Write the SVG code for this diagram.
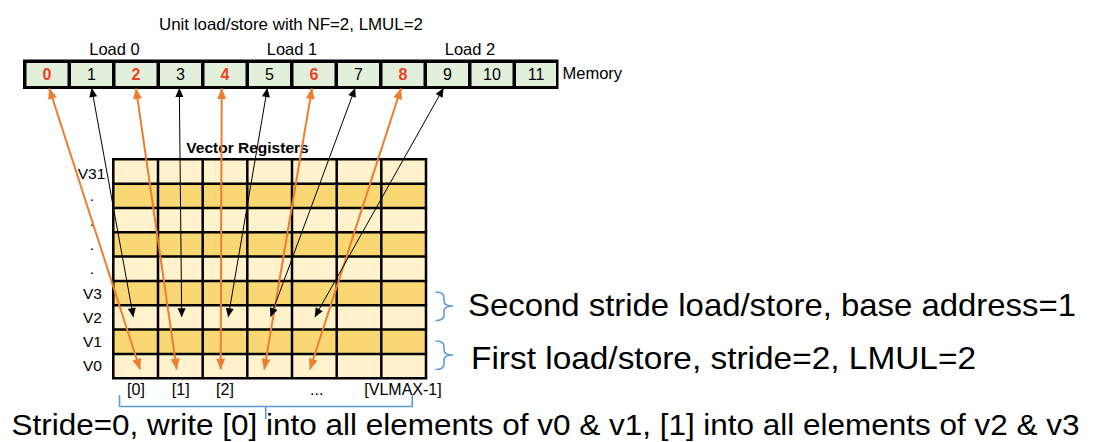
<svg xmlns="http://www.w3.org/2000/svg" width="1117" height="442" viewBox="0 0 1117 442">
<style>
text{font-family:"Liberation Sans",Arial,sans-serif;fill:#000}
.t16{font-size:16.5px}
.num{font-size:16px;text-anchor:middle}
.red{fill:#EE3F25;font-weight:bold}
.cell{fill:#E2EFDA}
.lt{fill:#FFF2CC}
.dk{fill:#F9D873}
.grid{stroke:#000;stroke-width:2.5;fill:none}
.reg{font-size:15.5px;text-anchor:middle}
.idx{font-size:16px;text-anchor:middle}
.big{font-size:32px}
.or{stroke:#ED7D31;stroke-width:2;fill:none;marker-start:url(#ao);marker-end:url(#ao)}
.bk{stroke:#000;stroke-width:1;fill:none;marker-start:url(#ab);marker-end:url(#ab)}
.br{stroke:#5B9BD5;stroke-width:1.6;fill:none}
</style>
<defs>
<marker id="ao" markerUnits="userSpaceOnUse" markerWidth="12" markerHeight="10" refX="10.5" refY="4.5" orient="auto-start-reverse" overflow="visible"><path d="M0,0 L11,4.5 L0,9 z" fill="#ED7D31"/></marker>
<marker id="ab" markerUnits="userSpaceOnUse" markerWidth="10" markerHeight="9" refX="8.5" refY="4" orient="auto-start-reverse" overflow="visible"><path d="M0,0 L9,4 L0,8 z" fill="#000"/></marker>
</defs>
<rect width="1117" height="442" fill="#fff"/>

<g id="title">
<text class="t16" x="291" y="30" text-anchor="middle" textLength="264" lengthAdjust="spacingAndGlyphs">Unit load/store with NF=2, LMUL=2</text>
<text class="t16" x="114.5" y="55" text-anchor="middle">Load 0</text>
<text class="t16" x="292" y="55" text-anchor="middle">Load 1</text>
<text class="t16" x="470" y="55" text-anchor="middle">Load 2</text>
</g>

<g id="memory">
<rect x="23" y="59.5" width="535.5" height="29.5" fill="#000"/>
<g id="mem0"><rect class="cell" x="26.5" y="63" width="41" height="23"/><text class="num red" x="47" y="80">0</text></g>
<g id="mem1"><rect class="cell" x="71" y="63" width="41" height="23"/><text class="num" x="91.5" y="80">1</text></g>
<g id="mem2"><rect class="cell" x="115.5" y="63" width="41" height="23"/><text class="num red" x="136" y="80">2</text></g>
<g id="mem3"><rect class="cell" x="160" y="63" width="41" height="23"/><text class="num" x="180.5" y="80">3</text></g>
<g id="mem4"><rect class="cell" x="204.5" y="63" width="41" height="23"/><text class="num red" x="225" y="80">4</text></g>
<g id="mem5"><rect class="cell" x="249" y="63" width="41" height="23"/><text class="num" x="269.5" y="80">5</text></g>
<g id="mem6"><rect class="cell" x="293.5" y="63" width="41" height="23"/><text class="num red" x="314" y="80">6</text></g>
<g id="mem7"><rect class="cell" x="338" y="63" width="41" height="23"/><text class="num" x="358.5" y="80">7</text></g>
<g id="mem8"><rect class="cell" x="382.5" y="63" width="41" height="23"/><text class="num red" x="403" y="80">8</text></g>
<g id="mem9"><rect class="cell" x="427" y="63" width="41" height="23"/><text class="num" x="447.5" y="80">9</text></g>
<g id="mem10"><rect class="cell" x="471.5" y="63" width="41" height="23"/><text class="num" x="492" y="80">10</text></g>
<g id="mem11"><rect class="cell" x="516" y="63" width="40" height="23"/><text class="num" x="536" y="80">11</text></g>
<text class="t16" x="562.5" y="79">Memory</text>
</g>

<g id="registers">
<text x="247.5" y="152.5" font-size="15.5" font-weight="bold" text-anchor="middle">Vector Registers</text>
<rect class="lt" x="113.3" y="159.3" width="312.7" height="24.33"/>
<rect class="dk" x="113.3" y="183.63" width="312.7" height="24.33"/>
<rect class="lt" x="113.3" y="207.96" width="312.7" height="24.33"/>
<rect class="dk" x="113.3" y="232.29" width="312.7" height="24.33"/>
<rect class="lt" x="113.3" y="256.62" width="312.7" height="24.33"/>
<rect class="dk" x="113.3" y="280.95" width="312.7" height="24.33"/>
<rect class="lt" x="113.3" y="305.28" width="312.7" height="24.33"/>
<rect class="dk" x="113.3" y="329.61" width="312.7" height="24.33"/>
<rect class="lt" x="113.3" y="353.94" width="312.7" height="24.33"/>
<path class="grid" d="M113.3,159.3V378.3M158,159.3V378.3M202.7,159.3V378.3M247.3,159.3V378.3M292,159.3V378.3M336.7,159.3V378.3M381.3,159.3V378.3M426,159.3V378.3M112,159.3H427.3M112,183.63H427.3M112,207.96H427.3M112,232.29H427.3M112,256.62H427.3M112,280.95H427.3M112,305.28H427.3M112,329.61H427.3M112,353.94H427.3M112,378.27H427.3"/>
<text class="reg" x="91.5" y="178.5">V31</text>
<text class="reg" x="92" y="201">.</text>
<text class="reg" x="92" y="226">.</text>
<text class="reg" x="92" y="250">.</text>
<text class="reg" x="92" y="274">.</text>
<text class="reg" x="92.5" y="299">V3</text>
<text class="reg" x="92.5" y="322.7">V2</text>
<text class="reg" x="92.5" y="346.7">V1</text>
<text class="reg" x="92.5" y="370.7">V0</text>
<text class="idx" x="136" y="395">[0]</text>
<text class="idx" x="180.7" y="395">[1]</text>
<text class="idx" x="225" y="395">[2]</text>
<text class="idx" x="316.7" y="395">...</text>
<text class="idx" x="403" y="395">[VLMAX-1]</text>
</g>

<g id="connectors">
<line class="or" x1="49.3" y1="88.5" x2="140" y2="369.3"/>
<line class="or" x1="136" y1="88.5" x2="176.7" y2="369.3"/>
<line class="or" x1="221.7" y1="88.5" x2="220.7" y2="369.3"/>
<line class="or" x1="312" y1="88.5" x2="264.3" y2="369.3"/>
<line class="or" x1="401" y1="88.5" x2="310" y2="369.3"/>
<line class="bk" x1="91.7" y1="88.5" x2="133.3" y2="316.7"/>
<line class="bk" x1="179.3" y1="88.5" x2="181.7" y2="316.7"/>
<line class="bk" x1="267.3" y1="88.5" x2="228.3" y2="316.7"/>
<line class="bk" x1="355" y1="88.5" x2="270.7" y2="316.5"/>
<line class="bk" x1="443.3" y1="88.5" x2="315" y2="316.7"/>
</g>

<g id="brace-second">
<path class="br" d="M435.5,292 Q444,292 444,297.5 L444,301 Q444,306 453,306 Q444,306 444,311 L444,315 Q444,320.5 435.5,320.5"/>
<text class="big" x="468" y="316" textLength="608" lengthAdjust="spacingAndGlyphs">Second stride load/store, base address=1</text>
</g>
<g id="brace-first">
<path class="br" d="M435.5,341 Q444,341 444,346.5 L444,350 Q444,355 453,355 Q444,355 444,360 L444,364 Q444,369.5 435.5,369.5"/>
<text class="big" x="471" y="368.5" textLength="505" lengthAdjust="spacingAndGlyphs">First load/store, stride=2, LMUL=2</text>
</g>
<g id="brace-bottom">
<path class="br" d="M119.5,395 V406.5 H412.3 V395 M265.7,406.5 V419"/>
<text x="11.5" y="435" font-size="30" textLength="1068" lengthAdjust="spacingAndGlyphs">Stride=0, write [0] into all elements of v0 &amp; v1, [1] into all elements of v2 &amp; v3</text>
</g>
</svg>
